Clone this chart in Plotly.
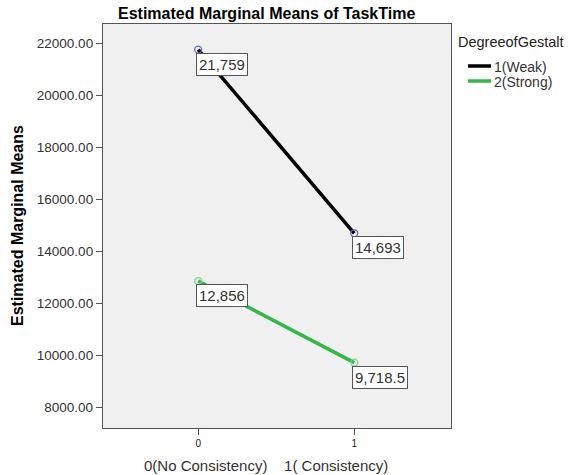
import plotly.graph_objects as go

x_levels = [0, 1]
x_tick_labels = ["0", "1"]
series_names = ["1(Weak)", "2(Strong)"]
weak_values = [21759, 14693]
strong_values = [12856, 9718.5]
weak_labels = ["21,759", "14,693"]
strong_labels = ["12,856", "9,718.5"]
y_ticks = [8000, 10000, 12000, 14000, 16000, 18000, 20000, 22000]

FONT = "Liberation Sans, Arial, sans-serif"
W, H = 571, 475
# plot rectangle in window pixels: x 103..451, y 24..428
L, T = 103, 24
R = W - 451
B = H - 428
PW, PH = W - L - R, H - T - B


def px(xp):
    return (xp - L) / PW


def py(yp):
    return (H - B - yp) / PH


fig = go.Figure()
series = [
    (series_names[0], weak_values, weak_labels, "#000000", "#5b6cc4"),
    (series_names[1], strong_values, strong_labels, "#36b54a", "#7fd88a"),
]
for i, (name, vals, labs, lc, mc) in enumerate(series):
    fig.add_trace(go.Scatter(
        x=x_levels, y=vals, name=name, mode="lines",
        line=dict(color=lc, width=3.5), showlegend=False, hoverinfo="skip",
    ))
    fig.add_trace(go.Scatter(
        x=x_levels, y=vals, name=name, mode="markers", showlegend=False,
        marker=dict(symbol="circle-open", size=7, color=mc, line=dict(width=1.3, color=mc)),
    ))
    for xv, yv, t in zip(x_levels, vals, labs):
        fig.add_annotation(
            x=xv, y=yv, xref="x", yref="y", text=t, showarrow=False,
            xanchor="left", yanchor="top", xshift=-2, yshift=-3,
            font=dict(family=FONT, size=15, color="#333333"),
            bgcolor="white", bordercolor="#555555", borderwidth=1, borderpad=2,
        )
    # legend entry
    ly = 66 + 15 * i
    fig.add_shape(type="line", xref="paper", yref="paper",
                  x0=px(468), x1=px(491), y0=py(ly), y1=py(ly),
                  line=dict(color=lc, width=3.5))
    fig.add_annotation(text=name, xref="paper", yref="paper", x=px(492), y=py(ly + 1),
                       xanchor="left", yanchor="middle", showarrow=False,
                       font=dict(family=FONT, size=14, color="#333333"))

fig.add_annotation(text="DegreeofGestalt", xref="paper", yref="paper", x=px(456), y=py(41.5),
                   xanchor="left", yanchor="middle", showarrow=False,
                   font=dict(family=FONT, size=14.5, color="#222222"))

fig.add_annotation(
    text="<b>Estimated Marginal Means of TaskTime</b>", xref="paper", yref="paper",
    x=px(266), y=py(14), showarrow=False,
    xanchor="center", yanchor="middle", font=dict(family=FONT, size=16, color="#000000"),
)
fig.add_annotation(
    text="0(No Consistency)\u00a0\u00a0\u00a0\u00a01( Consistency)", xref="paper", yref="paper",
    x=px(266), y=py(465), showarrow=False,
    xanchor="center", yanchor="middle", font=dict(family=FONT, size=15, color="#333333"),
)
fig.add_annotation(
    text="<b>Estimated Marginal Means</b>", xref="paper", yref="paper",
    x=px(17), y=py(226), showarrow=False, textangle=-90,
    xanchor="center", yanchor="middle", font=dict(family=FONT, size=16, color="#000000"),
)

fig.update_layout(
    width=W, height=H,
    margin=dict(l=L, r=R, t=T, b=B, autoexpand=False),
    paper_bgcolor="white", plot_bgcolor="#f0f0f0",
    font=dict(family=FONT, color="#333333"),
    showlegend=False,
    xaxis=dict(
        range=[-0.61, 1.62], tickvals=x_levels, ticktext=x_tick_labels, automargin=False,
        showgrid=False, zeroline=False, showline=True, mirror=True,
        linecolor="#555555", linewidth=1.3, ticks="outside", ticklen=6,
        tickcolor="#555555", tickfont=dict(family=FONT, size=10, color="#222222"),
    ),
    yaxis=dict(
        range=[7204, 22742], tickvals=y_ticks, tickformat=".2f", automargin=False,
        showgrid=False, zeroline=False, showline=True, mirror=True,
        linecolor="#555555", linewidth=1.3, ticks="outside", ticklen=6,
        tickcolor="#555555", tickfont=dict(family=FONT, size=13.5, color="#333333"),
    ),
)

fig.write_html("out.html", config={"displayModeBar": False},
               post_script="document.body.style.margin='0px';")
